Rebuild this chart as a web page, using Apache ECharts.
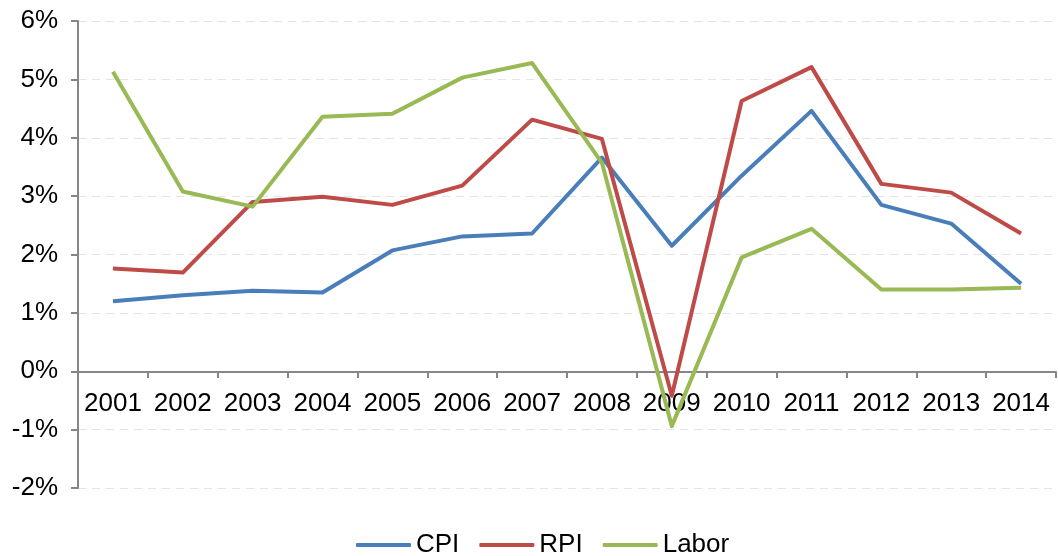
<!DOCTYPE html>
<html>
<head>
<meta charset="utf-8">
<script src="https://cdn.jsdelivr.net/npm/echarts@6/dist/echarts.min.js"></script>
<style>
  html, body { margin: 0; padding: 0; background: #fff; }
  #chart { width: 1058px; height: 556px; }
</style>
</head>
<body>
<div id="chart"></div>
<script>
// years on the x axis
const years = ['2001', '2002', '2003', '2004', '2005', '2006', '2007',
  '2008', '2009', '2010', '2011', '2012', '2013', '2014']

// annual rates in percent
const cpi = [1.2, 1.3, 1.38, 1.35, 2.07, 2.31, 2.36, 3.66, 2.15, 3.35, 4.46, 2.85, 2.53, 1.5]
const rpi = [1.76, 1.69, 2.9, 2.99, 2.85, 3.18, 4.31, 3.98, -0.42, 4.63, 5.21, 3.21, 3.06, 2.36]
const labor = [5.13, 3.08, 2.82, 4.36, 4.41, 5.03, 5.28, 3.57, -0.94, 1.95, 2.44, 1.4, 1.4, 1.43]

const axisGrey = '#868686'
const font = 'Liberation Sans, Arial, sans-serif'

const chart = echarts.init(document.getElementById('chart'))

function line(name, data, color) {
  return {
    name: name,
    type: 'line',
    data: data,
    symbol: 'none',
    lineStyle: { color: color, width: 4, join: 'round' },
    itemStyle: { color: color },
    animation: false
  }
}

chart.setOption({
  grid: { left: 78, top: 21, right: 2, bottom: 68 },
  legend: {
    top: 527,
    left: 351,
    itemWidth: 55,
    itemHeight: 4,
    itemGap: 20,
    icon: 'roundRect',
    textStyle: { fontFamily: font, fontSize: 26, color: '#000' },
    data: ['CPI', 'RPI', 'Labor']
  },
  xAxis: {
    type: 'category',
    data: years,
    boundaryGap: true,
    position: 'bottom',
    // the axis sits on 0%, 2 units above the bottom of the grid
    offset: -116,
    axisLine: { onZero: false, lineStyle: { color: axisGrey, width: 2 } },
    axisTick: { show: true, interval: 0, length: 6, lineStyle: { color: axisGrey, width: 2 } },
    axisLabel: { interval: 0, fontFamily: font, fontSize: 26, color: '#000', margin: 19 },
    splitLine: { show: false }
  },
  yAxis: {
    type: 'value',
    min: -2,
    max: 6,
    interval: 1,
    axisLine: { show: true, lineStyle: { color: axisGrey, width: 2 } },
    axisTick: { show: true, length: 7, lineStyle: { color: axisGrey, width: 2 } },
    axisLabel: {
      fontFamily: font, fontSize: 26, color: '#000', margin: 20,
      formatter: v => v + '%'
    },
    splitLine: { show: true, lineStyle: { color: '#e4e4e4', type: [8, 6], width: 1 } }
  },
  series: [
    line('CPI', cpi, '#4a7ebb'),
    line('RPI', rpi, '#be4b48'),
    line('Labor', labor, '#98b954')
  ]
})
</script>
</body>
</html>
